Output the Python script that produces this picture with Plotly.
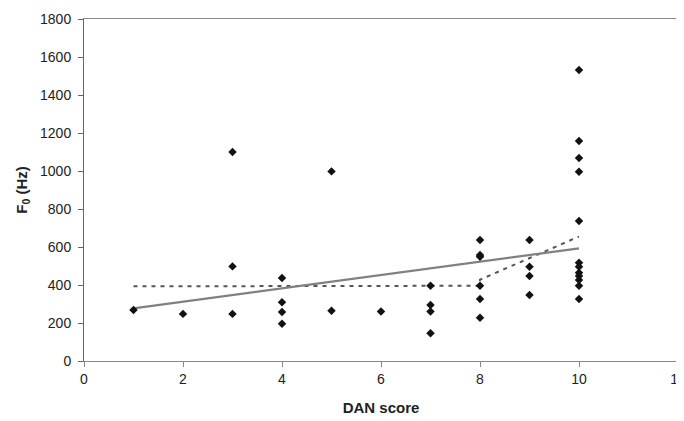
import plotly.graph_objects as go

dan_x = [1, 2, 3, 3, 3, 4, 4, 4, 4, 5, 5, 6,
         7, 7, 7, 7, 8, 8, 8, 8, 8, 8,
         9, 9, 9, 9,
         10, 10, 10, 10, 10, 10, 10, 10, 10, 10, 10, 10]
f0_y = [268, 248, 1100, 498, 248, 437, 309, 258, 196, 998, 265, 260,
        396, 295, 260, 146, 637, 558, 549, 396, 326, 228,
        637, 496, 447, 347,
        1532, 1158, 1068, 996, 737, 517, 496, 465, 447, 426, 396, 326]

fit_x = [1, 10]
fit_y = [277, 593]

curve_x = [1, 8, 8, 10]
curve_y = [393, 396, 428, 655]

fig = go.Figure()
fig.add_trace(go.Scatter(x=curve_x, y=curve_y, mode="lines",
                         line=dict(color="#555555", width=2, dash="4px,5px"),
                         showlegend=False))
fig.add_trace(go.Scatter(x=fit_x, y=fit_y, mode="lines",
                         line=dict(color="#808080", width=2.2),
                         showlegend=False))
fig.add_trace(go.Scatter(x=dan_x, y=f0_y, mode="markers",
                         marker=dict(symbol="diamond", size=6.5, color="#111111"),
                         showlegend=False))

axis_font = dict(family="Liberation Sans, Arial, sans-serif", size=14, color="#222222")
fig.update_layout(
    width=676, height=413,
    margin=dict(l=76, r=6, t=11, b=60),
    paper_bgcolor="white", plot_bgcolor="white",
    font=axis_font,
    xaxis=dict(range=[0, 12], tickvals=[0, 2, 4, 6, 8, 10, 12],
               automargin=False, ticklabeloverflow="allow",
               showgrid=False, zeroline=False,
               showline=True, linecolor="#888888", linewidth=1, mirror=True,
               ticks="outside", ticklen=5, tickcolor="#888888",
               title=dict(text="<b>DAN score</b>", font=dict(size=15, color="#222222"), standoff=16)),
    yaxis=dict(range=[0, 1800], tickvals=list(range(0, 1801, 200)),
               automargin=False, ticklabeloverflow="allow", ticklabelstandoff=4,
               showgrid=False, zeroline=False,
               showline=True, linecolor="#666666", linewidth=1, mirror=True,
               ticks="outside", ticklen=5, tickcolor="#666666",
               title=dict(text="<b>F<sub>0</sub> (Hz)</b>", font=dict(size=15, color="#222222"), standoff=8)),
)

fig.write_html("out.html")
